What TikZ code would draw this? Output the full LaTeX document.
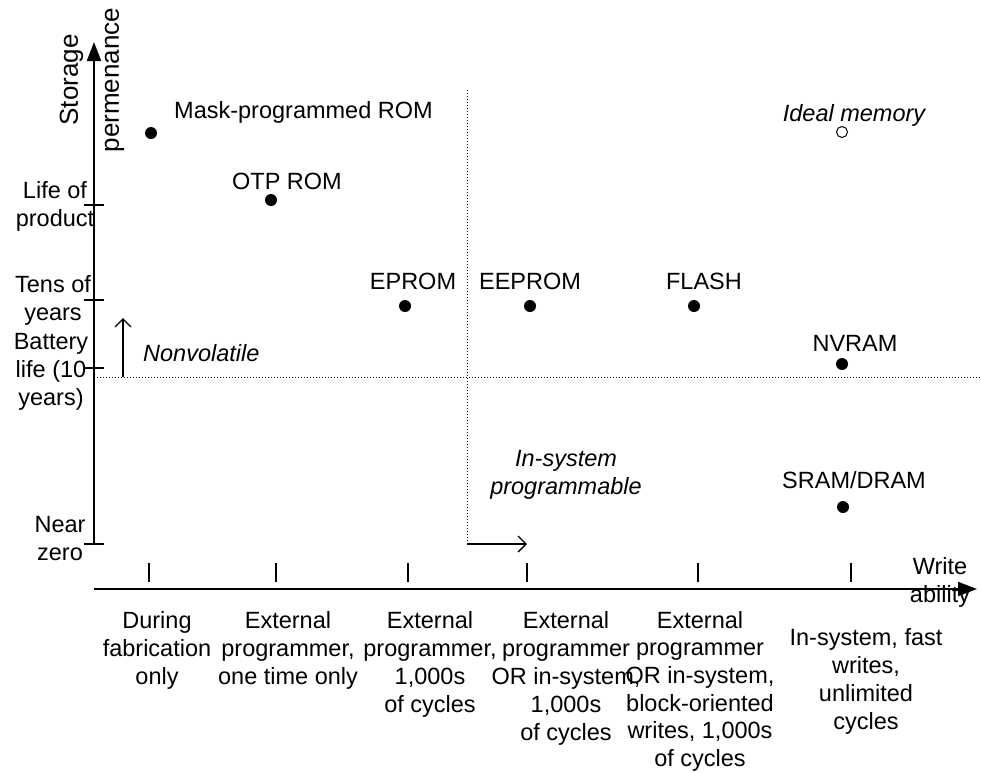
\documentclass[tikz,border=0pt]{standalone}
\usepackage{fontspec}
\setmainfont{Liberation Sans}
\usetikzlibrary{positioning,arrows.meta}
\tikzset{
  every node/.style={font=\fontsize{23.5}{28}\selectfont},
  memdot/.style={circle, fill=black, inner sep=0pt, minimum size=12pt},
  idealdot/.style={circle, draw=black, fill=white, inner sep=0pt, minimum size=11pt, line width=1pt},
  lbl/.style={inner sep=0pt, align=center},
  emph/.style={inner sep=0pt, align=center, font=\fontsize{23.5}{28}\selectfont\itshape},
  colnote/.style={inner sep=0pt, align=center, anchor=north},
  axisline/.style={-{Triangle[length=19pt,width=14pt]}, line width=2pt},
  guide/.style={line width=1pt, dash pattern=on 1pt off 2pt},
  hint/.style={-{Straight Barb[length=8pt,width=16pt]}, line width=1.3pt},
  ticks/.style={line width=1.5pt},
}

\begin{document}
\begin{tikzpicture}[x=1pt, y=-1pt]
  \useasboundingbox (0,0) rectangle (981,772);

  \coordinate (origin) at (94,589);
  \coordinate (ybase) at (94,544);
  \coordinate (ytop) at (94,42);
  \coordinate (xend) at (977,589);
  \coordinate (nv-l) at (94,377);
  \coordinate (nv-r) at (981,377);
  \coordinate (is-t) at (467,90);
  \coordinate (is-b) at (467,541);
  \coordinate (nv-from) at (123,377);
  \coordinate (nv-to) at (123,318);
  \coordinate (is-from) at (467,544);
  \coordinate (is-to) at (527,544);

  \draw[guide] (nv-l) -- (nv-r);
  \draw[guide] (is-t) -- (is-b);
  \draw[axisline] (ybase) -- (ytop);
  \draw[axisline] (origin) -- (xend);

  \foreach \ty/\nm in {205/life,300/tens,368/batt,544/zero} {
    \coordinate (\nm-l) at (84,\ty);
    \coordinate (\nm-r) at (104,\ty);
    \draw[ticks] (\nm-l) -- (\nm-r);
  }
  \foreach \tx/\nm in {149/fab,276/otp,408/ext,527/ins,698/blk,851/fast} {
    \coordinate (\nm-t) at (\tx,563);
    \coordinate (\nm-b) at (\tx,582);
    \draw[ticks] (\nm-t) -- (\nm-b);
  }

  \draw[hint] (nv-from) -- (nv-to);
  \draw[hint] (is-from) -- (is-to);

  \node[lbl, rotate=90, font=\fontsize{26}{41}\selectfont] (ylabel) at (92,80) {Storage\\permenance};
  \node[lbl] (xlabel) at (940,582) {Write\\ability};

  \node[lbl] (lifelbl) at (55,206) {Life of\\product};
  \node[lbl] (tenslbl) at (53,300) {Tens of\\years};
  \node[lbl] (battlbl) at (51,372) {Battery\\life (10\\years)};
  \node[lbl] (zerolbl) at (60,539) {Near\\zero};

  \node[memdot] (mask) at (151,133) {};
  \node[memdot] (otprom) at (271,200) {};
  \node[memdot] (eprom) at (405,306) {};
  \node[memdot] (eeprom) at (530,306) {};
  \node[memdot] (flash) at (694,306) {};
  \node[memdot] (nvram) at (842,364) {};
  \node[memdot] (sram) at (843,507) {};
  \node[idealdot] (ideal) at (842,132) {};

  \node[lbl, anchor=west] (masklbl) at (174,112) {Mask-programmed ROM};
  \node[lbl] (otplbl) at (287,181) {OTP ROM};
  \node[lbl] (epromlbl) at (413,281) {EPROM};
  \node[lbl] (eepromlbl) at (530,281) {EEPROM};
  \node[lbl] (flashlbl) at (704,281) {FLASH};
  \node[lbl] (nvramlbl) at (855,343) {NVRAM};
  \node[lbl] (sramlbl) at (854,480) {SRAM/DRAM};
  \node[emph] (ideallbl) at (854,115) {Ideal memory};

  \node[emph, anchor=west] (nvlbl) at (143,353) {Nonvolatile};
  \node[emph] (islbl) at (566,475) {In-system\\programmable};

  \node[colnote] (col1) at (157,611) {During\\fabrication\\only};
  \node[colnote] (col2) at (288,611) {External\\programmer,\\one time only};
  \node[colnote] (col3) at (430,611) {External\\programmer,\\1,000s\\of cycles};
  \node[colnote] (col4) at (566,611) {External\\programmer\\OR in-system,\\1,000s\\of cycles};
  \node[colnote, font=\fontsize{23.5}{27.6}\selectfont] (col5) at (700,611) {External\\programmer\\OR in-system,\\block-oriented\\writes, 1,000s\\of cycles};
  \node[colnote] (col6) at (866,628) {In-system, fast\\writes,\\unlimited\\cycles};
\end{tikzpicture}
\end{document}
